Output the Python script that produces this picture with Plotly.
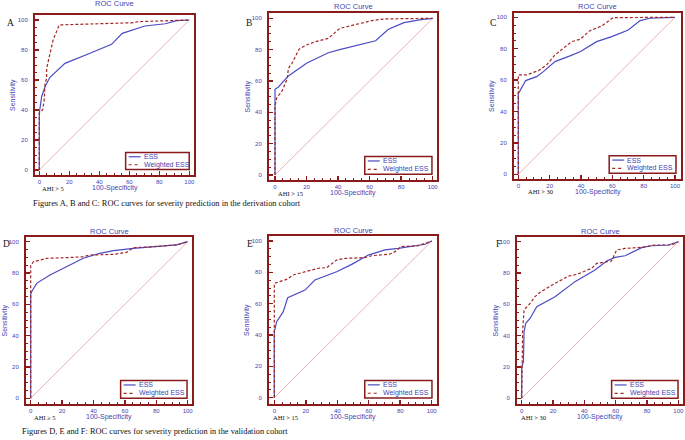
import plotly.graph_objects as go

# ---------------- data ----------------
panel_letters = ["A", "B", "C", "D", "E", "F"]
ahi_labels = ["AHI > 5", "AHI > 15", "AHI > 30", "AHI \u2265 5", "AHI > 15", "AHI > 30"]
series_names = ["ESS", "Weighted ESS"]
diag = [0, 100]

a_ess_x = [0, 0, 1.6, 4.0, 7.1, 17.1, 33, 48.2, 55.3, 70.4, 84, 91.6, 100]
a_ess_y = [0, 38, 49, 56, 61.8, 71.1, 77.5, 83.8, 91.1, 96, 97.5, 99.6, 100]
a_w_x = [0, 0, 2.2, 3.3, 3.8, 4.9, 4.9, 8.2, 9.3, 13.3, 62.7, 66, 100]
a_w_y = [0, 38, 40, 46.7, 57.8, 61, 67.8, 82, 87, 96.7, 98.2, 98.9, 100]

b_ess_x = [0, 0, 2, 8.5, 20, 33.8, 41, 63.8, 71.9, 81.8, 91.5, 100]
b_ess_y = [0, 54.7, 56, 63.2, 71.3, 78, 80, 85.7, 93, 97.2, 99, 100]
b_w_x = [0, 0, 1, 4.7, 7.8, 8.5, 10.6, 15.2, 20, 25.4, 33.8, 41.2, 61.3, 69.3, 100]
b_w_y = [0, 44, 49, 54, 61.7, 68, 71, 80.2, 83, 85, 87.2, 93.6, 98.5, 99.6, 100]

c_ess_x = [0, 0, 0.4, 4.7, 11.7, 16, 23.4, 33, 39.4, 50, 59.6, 70.2, 77.7, 84, 100]
c_ess_y = [0, 52, 52, 59.7, 62.2, 65.4, 71.8, 75.4, 78.1, 84.5, 87.7, 91.9, 97.9, 99.4, 100]
c_w_x = [0, 0, 5.3, 12.8, 18, 23.4, 34, 39.4, 45.7, 53.2, 60.6, 100]
c_w_y = [0, 63.3, 63.3, 66, 69.6, 76, 84.5, 86, 91.5, 94.5, 99.8, 100]

d_ess_x = [0, 0, 0.6, 3.8, 12.3, 23, 33.5, 44, 52.7, 65.4, 80, 93, 100]
d_ess_y = [0, 66.4, 68, 73.4, 78.7, 84, 89.4, 92.6, 94.3, 95.7, 96.8, 98, 100]
d_w_x = [0, 0, 1.7, 10.2, 23, 33.5, 37.8, 52.7, 61, 65.4, 78, 93, 100]
d_w_y = [0, 84.5, 87.2, 89.4, 89.8, 90.4, 91.5, 91.9, 93.2, 96.2, 96.8, 98, 100]

e_ess_x = [0, 0, 1.5, 5.7, 8.5, 19.5, 25.8, 39.6, 49.2, 59.7, 70.3, 78.8, 95.8, 100]
e_ess_y = [0, 42.1, 48.5, 54.9, 63.8, 68.7, 75.1, 80.4, 85.1, 91, 94.3, 95.3, 97.9, 100]
e_w_x = [0, 0, 7.8, 12, 28, 33.3, 39.6, 44.9, 57.6, 61.9, 73.5, 76.7, 80.5, 91.5, 100]
e_w_y = [0, 73, 75.5, 78.3, 82.6, 83, 87.9, 88.9, 89.4, 90.6, 91.7, 93.2, 96.4, 97, 100]

f_ess_x = [0, 0, 1.1, 1.5, 2.6, 5.3, 9.6, 21.3, 34, 46.8, 54.3, 59.6, 66, 76.6, 83, 93.6, 100]
f_ess_y = [0, 20, 23.4, 42.5, 47.9, 51, 58.5, 64.9, 74.5, 81.9, 87.7, 90, 91, 96.2, 97.4, 97.9, 100]
f_w_x = [0, 0.6, 1.5, 5.3, 8.5, 11.7, 21.3, 29.8, 35.1, 44.7, 47.9, 57.4, 60.6, 66, 76.6, 85, 95.7, 100]
f_w_y = [0, 42.5, 56.4, 60.6, 64.9, 67.7, 73.4, 78, 79.1, 83, 86.2, 87.7, 94.7, 95.7, 96.4, 97.9, 97.9, 100]

captions = [
    "Figures A, B and C: ROC curves for severity prediction in the derivation cohort",
    "Figures D, E and F: ROC curves for severity prediction in the validation cohort",
]

panel_data = [
    (a_ess_x, a_ess_y, a_w_x, a_w_y),
    (b_ess_x, b_ess_y, b_w_x, b_w_y),
    (c_ess_x, c_ess_y, c_w_x, c_w_y),
    (d_ess_x, d_ess_y, d_w_x, d_w_y),
    (e_ess_x, e_ess_y, e_w_x, e_w_y),
    (f_ess_x, f_ess_y, f_w_x, f_w_y),
]

# ---------------- layout (pixel geometry) ----------------
W, H = 685, 440
frames = [(35, 194, 15, 175), (269, 437, 13, 180), (514, 681, 13, 179),
          (26, 192, 237, 404), (269, 437, 236, 404), (517, 683, 237, 404)]
x0s = [39.3, 275, 518.3, 30.7, 274.3, 521.7]
x100s = [189.3, 432.7, 675, 187.7, 431.7, 678.3]
y0s = [170, 175, 174.3, 398.3, 397.7, 398.3]
y100s = [20, 18.3, 17.3, 241.7, 241, 241.7]
title_shift = [11, 6, 6, 6, 6, 6]
letter_pos = [(10, 23), (249, 23), (493, 23), (6, 244), (250, 244), (498, 244)]
ahi_off = [18, 21, 26, 19, 16, 16]

RED = "#8B1A1A"
BLUE_TXT = "#4545B0"
ESS_C = "#4B4BC4"
W_C = "#A32626"
DIAG_C = "#E8B4B4"
SANS = "Liberation Sans, Arial, sans-serif"
SERIF = "Liberation Serif, Times New Roman, serif"

fig = go.Figure()
layout = dict(width=W, height=H, margin=dict(l=0, r=0, t=0, b=0),
              paper_bgcolor="white", plot_bgcolor="white", showlegend=False)
shapes, annotations = [], []

for i in range(6):
    n = "" if i == 0 else str(i + 1)
    xa, ya = "x" + n, "y" + n
    L, R, T, B = frames[i]
    sx = (x100s[i] - x0s[i]) / 100.0
    sy = (y0s[i] - y100s[i]) / 100.0
    xr = [(L - x0s[i]) / sx, (R - x0s[i]) / sx]
    yr = [(y0s[i] - B) / sy, (y0s[i] - T) / sy]
    axis_common = dict(
        showgrid=False, zeroline=False, showline=True, mirror=True,
        linecolor=RED, linewidth=2, ticks="inside", ticklen=4, tickwidth=1.5,
        tickcolor=RED, tick0=0, dtick=20,
        minor=dict(ticks="inside", ticklen=2, tickwidth=1, tickcolor=RED, dtick=5, tick0=0, showgrid=False),
        tickfont=dict(family=SANS, size=6, color=BLUE_TXT),
    )
    layout["xaxis" + n] = dict(axis_common, domain=[L / W, R / W], range=xr, anchor=ya)
    layout["yaxis" + n] = dict(axis_common, domain=[1 - B / H, 1 - T / H], range=yr, anchor=xa,
                               ticklabelstandoff=4)

    ex, ey, wx, wy = panel_data[i]
    fig.add_trace(go.Scatter(x=diag, y=diag, mode="lines", xaxis=xa, yaxis=ya,
                             line=dict(color=DIAG_C, width=1), hoverinfo="skip"))
    fig.add_trace(go.Scatter(x=ex, y=ey, mode="lines", xaxis=xa, yaxis=ya, name=series_names[0],
                             line=dict(color=ESS_C, width=1.2)))
    fig.add_trace(go.Scatter(x=wx, y=wy, mode="lines", xaxis=xa, yaxis=ya, name=series_names[1],
                             line=dict(color=W_C, width=1.2, dash="3px,2px")))

    xd, yd = xa + " domain", ya + " domain"
    annotations.append(dict(text="ROC Curve", xref=xd, yref=yd, x=0.5, y=1, yshift=title_shift[i],
                            showarrow=False, xanchor="center", yanchor="middle",
                            font=dict(family=SANS, size=7.5, color=BLUE_TXT)))
    annotations.append(dict(text="Sensitivity", xref=xd, yref=yd, x=0, y=0.5, xshift=-22,
                            textangle=-90, showarrow=False, xanchor="center", yanchor="middle",
                            font=dict(family=SANS, size=7, color=BLUE_TXT)))
    annotations.append(dict(text="100-Specificity", xref=xd, yref=yd, x=0.5, y=0, yshift=-13,
                            showarrow=False, xanchor="center", yanchor="middle",
                            font=dict(family=SANS, size=7, color=BLUE_TXT)))
    annotations.append(dict(text=ahi_labels[i], xref=xd, yref=yd, x=0, y=0, xshift=ahi_off[i], yshift=-13,
                            showarrow=False, xanchor="center", yanchor="middle",
                            font=dict(family=SERIF, size=6.5, color="#111111")))
    lx, ly = letter_pos[i]
    annotations.append(dict(text=panel_letters[i], xref="paper", yref="paper", x=lx / W, y=1 - ly / H,
                            showarrow=False, xanchor="center", yanchor="middle",
                            font=dict(family=SERIF, size=9.5, color="#111111")))
    bx0, bx1, by0, by1 = 0.57, 0.97, 0.035, 0.14
    shapes.append(dict(type="rect", xref=xd, yref=yd, x0=bx0, x1=bx1, y0=by0, y1=by1,
                       line=dict(color=RED, width=1.5), fillcolor="white", layer="above"))
    for row_y, col, dash, name in [(0.114, ESS_C, "solid", series_names[0]),
                                   (0.064, W_C, "dot", series_names[1])]:
        shapes.append(dict(type="line", xref=xd, yref=yd, xsizemode="pixel", xanchor=bx0,
                           x0=3, x1=15, y0=row_y, y1=row_y,
                           line=dict(color=col, width=1.2, dash=dash), layer="above"))
        annotations.append(dict(text=name, xref=xd, yref=yd, x=bx0, xshift=16, y=row_y,
                                showarrow=False, xanchor="left", yanchor="middle",
                                font=dict(family=SANS, size=7, color=BLUE_TXT)))

annotations.append(dict(text=captions[0], xref="paper", yref="paper", x=31 / W, y=1 - 203 / H,
                        showarrow=False, xanchor="left", yanchor="middle",
                        font=dict(family=SERIF, size=8.4, color="#111111")))
annotations.append(dict(text=captions[1], xref="paper", yref="paper", x=20 / W, y=1 - 431 / H,
                        showarrow=False, xanchor="left", yanchor="middle",
                        font=dict(family=SERIF, size=8.4, color="#111111")))

layout["shapes"] = shapes
layout["annotations"] = annotations
fig.update_layout(**layout)
fig.write_html("out.html",
               config={"displayModeBar": False, "staticPlot": True},
               post_script="document.body.style.margin='0';document.body.style.overflow='hidden';")
